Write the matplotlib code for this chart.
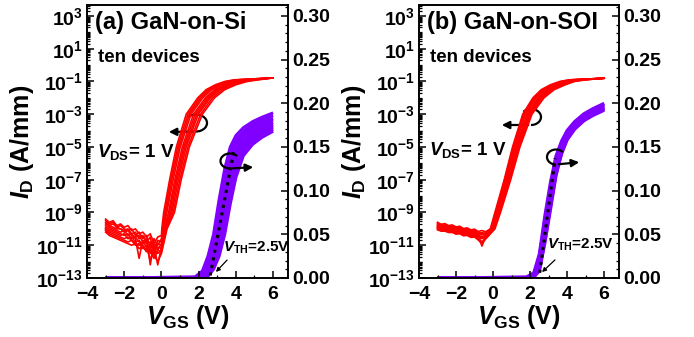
import numpy as np
import matplotlib
matplotlib.use("Agg")
import matplotlib.pyplot as plt
from matplotlib.ticker import FixedLocator, LogLocator, MultipleLocator, NullFormatter, FuncFormatter
from matplotlib.patches import Arc, FancyArrowPatch

plt.rcParams['font.family'] = ['Liberation Sans', 'DejaVu Sans']
plt.rcParams['font.weight'] = 'bold'
plt.rcParams['mathtext.fontset'] = 'custom'
plt.rcParams['mathtext.rm'] = 'Liberation Sans:bold'
plt.rcParams['mathtext.bf'] = 'Liberation Sans:bold'
plt.rcParams['mathtext.it'] = 'Liberation Sans:bold:italic'

W, H = 694, 337

# ---------------- data ----------------
panel_titles = ['(a) GaN-on-Si', '(b) GaN-on-SOI']

# off-state (log10 ID) on a common VGS grid, one row per device
vgs_off_a = [-3.0, -2.8, -2.6, -2.4, -2.2, -2.0, -1.8, -1.6, -1.4, -1.2, -1.0, -0.8, -0.6, -0.4, -0.2, 0.0]
logid_off_a = [
    [-9.4, -9.6, -9.5, -9.8, -9.7, -9.9, -9.8, -10.1, -10.0, -10.3, -10.2, -10.5, -10.3, -10.9, -10.5, -10.4],
    [-9.5, -9.7, -9.6, -9.9, -9.8, -10.0, -10.1, -10.0, -10.4, -10.2, -10.6, -10.4, -11.2, -10.6, -11.0, -10.6],
    [-9.6, -9.8, -9.7, -9.9, -10.0, -10.1, -10.0, -10.3, -10.2, -10.6, -10.4, -10.8, -10.5, -11.6, -10.7, -10.8],
    [-9.7, -9.8, -9.9, -10.0, -10.0, -10.2, -10.1, -10.4, -10.5, -10.4, -10.8, -10.6, -12.2, -10.8, -11.3, -10.9],
    [-9.8, -9.9, -10.0, -10.1, -10.2, -10.1, -10.4, -10.3, -10.6, -11.8, -10.7, -10.9, -10.8, -11.2, -10.9, -11.0],
    [-9.9, -10.0, -10.1, -10.2, -10.3, -10.4, -10.3, -10.6, -10.5, -10.8, -10.9, -10.7, -11.5, -11.0, -12.2, -11.1],
    [-10.0, -10.1, -10.2, -10.3, -10.4, -10.3, -10.6, -10.5, -10.8, -10.7, -11.0, -11.3, -10.9, -11.4, -11.1, -11.2],
    [-10.0, -10.2, -10.3, -10.4, -10.5, -10.6, -10.5, -10.7, -10.9, -11.0, -10.8, -11.1, -11.9, -11.2, -11.5, -11.3],
    [-10.1, -10.3, -10.4, -10.5, -10.6, -10.7, -10.8, -10.7, -11.0, -10.9, -11.2, -11.0, -11.4, -11.8, -11.3, -11.4],
    [-10.2, -10.4, -10.5, -10.6, -10.7, -10.8, -10.9, -11.0, -10.9, -11.2, -11.1, -11.4, -11.2, -11.6, -12.0, -11.5],
]
# on-state: VGS at which each device reaches the common log10 ID levels
logid_on_levels = [-10, -9, -7, -5, -3, -2, -1.5, -1.2, -1.0, -0.9]
vgs_on_a = [
    [0.02, 0.12, 0.44, 0.80, 1.33, 1.95, 2.40, 2.90, 3.40, 3.90],
    [0.05, 0.18, 0.50, 0.87, 1.42, 2.04, 2.50, 3.01, 3.52, 4.03],
    [0.08, 0.24, 0.56, 0.94, 1.50, 2.13, 2.60, 3.12, 3.64, 4.16],
    [0.10, 0.29, 0.63, 1.01, 1.59, 2.22, 2.70, 3.23, 3.76, 4.29],
    [0.15, 0.38, 0.72, 1.12, 1.72, 2.36, 2.85, 3.40, 3.94, 4.49],
    [0.17, 0.44, 0.78, 1.19, 1.81, 2.45, 2.95, 3.51, 4.06, 4.62],
    [0.20, 0.50, 0.84, 1.26, 1.90, 2.54, 3.05, 3.62, 4.18, 4.75],
    [0.23, 0.56, 0.91, 1.33, 1.98, 2.63, 3.15, 3.73, 4.30, 4.88],
    [0.27, 0.63, 0.99, 1.42, 2.10, 2.74, 3.28, 3.87, 4.46, 5.04],
    [0.30, 0.70, 1.06, 1.50, 2.20, 2.85, 3.40, 4.00, 4.60, 5.20],
]
vgs_end = 6.0
logid_sat_a = -0.78

vgs_off_b = [-3.0, -2.8, -2.6, -2.4, -2.2, -2.0, -1.8, -1.6, -1.4, -1.2, -1.0, -0.8, -0.6, -0.4]
logid_off_b = [
    [-9.60, -9.72, -9.68, -9.80, -9.76, -9.88, -9.84, -9.98, -9.94, -10.06, -10.02, -10.16, -10.10, -10.18],
    [-9.68, -9.78, -9.76, -9.86, -9.84, -9.94, -9.92, -10.04, -10.00, -10.12, -10.10, -10.22, -10.30, -10.24],
    [-9.74, -9.84, -9.80, -9.92, -9.88, -10.00, -9.98, -10.10, -10.06, -10.18, -10.14, -10.30, -10.22, -10.32],
    [-9.80, -9.88, -9.86, -9.96, -9.94, -10.04, -10.02, -10.14, -10.12, -10.22, -10.20, -10.34, -10.60, -10.36],
    [-9.84, -9.94, -9.90, -10.02, -9.98, -10.10, -10.06, -10.18, -10.16, -10.28, -10.24, -10.40, -10.32, -10.42],
    [-9.88, -9.98, -9.96, -10.06, -10.04, -10.14, -10.12, -10.24, -10.20, -10.32, -10.30, -10.46, -11.05, -10.46],
    [-9.92, -10.02, -10.00, -10.10, -10.08, -10.20, -10.16, -10.28, -10.26, -10.38, -10.34, -10.50, -10.44, -10.50],
    [-9.96, -10.06, -10.04, -10.14, -10.12, -10.24, -10.22, -10.32, -10.30, -10.42, -10.40, -10.56, -10.80, -10.54],
    [-10.00, -10.10, -10.08, -10.18, -10.16, -10.28, -10.26, -10.38, -10.34, -10.46, -10.44, -10.62, -10.54, -10.58],
    [-10.06, -10.14, -10.14, -10.22, -10.22, -10.32, -10.30, -10.42, -10.40, -10.52, -10.50, -10.68, -10.90, -10.62],
]
vgs_on_b = [
    [-0.15, 0.10, 0.60, 1.05, 1.60, 2.15, 2.60, 3.10, 3.60, 4.10],
    [-0.12, 0.13, 0.64, 1.09, 1.65, 2.21, 2.67, 3.18, 3.68, 4.19],
    [-0.10, 0.16, 0.67, 1.13, 1.70, 2.27, 2.74, 3.26, 3.76, 4.28],
    [-0.07, 0.19, 0.71, 1.17, 1.75, 2.33, 2.81, 3.34, 3.84, 4.37],
    [-0.04, 0.24, 0.76, 1.23, 1.83, 2.42, 2.92, 3.46, 3.96, 4.51],
    [-0.01, 0.27, 0.79, 1.27, 1.88, 2.48, 2.99, 3.54, 4.04, 4.60],
    [0.01, 0.30, 0.83, 1.31, 1.93, 2.54, 3.06, 3.62, 4.12, 4.69],
    [0.04, 0.33, 0.86, 1.35, 1.98, 2.60, 3.13, 3.70, 4.20, 4.78],
    [0.07, 0.36, 0.91, 1.40, 2.04, 2.68, 3.22, 3.80, 4.30, 4.89],
    [0.10, 0.40, 0.95, 1.45, 2.10, 2.75, 3.30, 3.90, 4.40, 5.00],
]
logid_sat_b = -0.80

# linear-scale ID (A/mm), one row per device
vgs_lin = [-3.0, 1.8, 2.2, 2.5, 2.8, 3.1, 3.4, 3.7, 4.0, 4.4, 4.9, 5.4, 6.0]
id_lin_a = [
    [0, 0.001, 0.008, 0.025, 0.050, 0.090, 0.125, 0.150, 0.163, 0.172, 0.179, 0.184, 0.189],
    [0, 0.001, 0.006, 0.020, 0.042, 0.078, 0.115, 0.143, 0.158, 0.168, 0.176, 0.181, 0.186],
    [0, 0.000, 0.005, 0.016, 0.036, 0.068, 0.106, 0.137, 0.154, 0.165, 0.173, 0.178, 0.183],
    [0, 0.000, 0.004, 0.013, 0.031, 0.060, 0.098, 0.131, 0.150, 0.162, 0.170, 0.176, 0.181],
    [0, 0.000, 0.002, 0.010, 0.025, 0.050, 0.088, 0.122, 0.145, 0.158, 0.167, 0.173, 0.178],
    [0, 0.000, 0.002, 0.008, 0.021, 0.044, 0.080, 0.115, 0.139, 0.154, 0.164, 0.171, 0.176],
    [0, 0.000, 0.001, 0.006, 0.018, 0.038, 0.072, 0.107, 0.133, 0.150, 0.161, 0.168, 0.174],
    [0, 0.000, 0.001, 0.004, 0.015, 0.033, 0.064, 0.099, 0.127, 0.146, 0.158, 0.166, 0.172],
    [0, 0.000, 0.000, 0.003, 0.012, 0.029, 0.057, 0.092, 0.121, 0.143, 0.156, 0.164, 0.170],
    [0, 0.000, 0.000, 0.002, 0.010, 0.025, 0.050, 0.085, 0.115, 0.140, 0.153, 0.161, 0.168],
]
id_lin_b = [
    [0, 0.001, 0.006, 0.028, 0.072, 0.110, 0.140, 0.157, 0.169, 0.179, 0.188, 0.194, 0.200],
    [0, 0.001, 0.005, 0.025, 0.068, 0.106, 0.138, 0.155, 0.168, 0.178, 0.187, 0.193, 0.199],
    [0, 0.000, 0.004, 0.022, 0.064, 0.102, 0.135, 0.154, 0.167, 0.177, 0.186, 0.192, 0.198],
    [0, 0.000, 0.003, 0.019, 0.059, 0.098, 0.132, 0.152, 0.165, 0.176, 0.185, 0.191, 0.197],
    [0, 0.000, 0.002, 0.016, 0.055, 0.094, 0.130, 0.150, 0.164, 0.175, 0.184, 0.190, 0.196],
    [0, 0.000, 0.002, 0.014, 0.052, 0.091, 0.127, 0.148, 0.163, 0.174, 0.183, 0.189, 0.195],
    [0, 0.000, 0.001, 0.012, 0.049, 0.087, 0.124, 0.146, 0.161, 0.173, 0.182, 0.188, 0.194],
    [0, 0.000, 0.001, 0.011, 0.046, 0.084, 0.122, 0.145, 0.160, 0.172, 0.181, 0.188, 0.194],
    [0, 0.000, 0.001, 0.009, 0.043, 0.081, 0.119, 0.143, 0.159, 0.171, 0.180, 0.187, 0.193],
    [0, 0.000, 0.001, 0.008, 0.040, 0.078, 0.117, 0.142, 0.158, 0.170, 0.180, 0.186, 0.192],
]

# extrapolation line for VTH
vth_line_a_v = [2.62, 3.88]
vth_line_a_i = [0.003, 0.144]
vth_line_b_v = [2.52, 3.35]
vth_line_b_i = [0.006, 0.137]

RED = '#ff0000'
PURPLE = '#8000ff'

fig = plt.figure(figsize=(W / 100, H / 100), dpi=100)

def fx(x):
    return x / W

def fy(y):
    return 1 - y / H

def curl(cx, cy, w, h, t1, t2, start, end):
    arc = Arc((fx(cx), fy(cy)), w / W, h / H, theta1=t1, theta2=t2,
              transform=fig.transFigure, color='black', lw=1.6)
    fig.add_artist(arc)
    arr = FancyArrowPatch((fx(start[0]), fy(start[1])), (fx(end[0]), fy(end[1])),
                          transform=fig.transFigure, arrowstyle='-|>',
                          mutation_scale=11, color='black', lw=1.6)
    fig.add_artist(arr)

def style_axes(ax, ax2):
    ax.set_yscale('log')
    ax.set_xlim(-4, 6.8)
    ax.set_ylim(1e-13, 10 ** 3.67)
    ax2.set_ylim(0, 0.3125)
    ax.xaxis.set_major_locator(MultipleLocator(2))
    ax.xaxis.set_minor_locator(MultipleLocator(1))
    ax.yaxis.set_major_locator(FixedLocator(10.0 ** np.arange(-13, 4, 2)))
    ax.yaxis.set_minor_locator(LogLocator(base=10, subs=np.arange(1, 10), numticks=40))
    ax.yaxis.set_minor_formatter(NullFormatter())
    ax.yaxis.set_major_formatter(FuncFormatter(lambda v, p: r'$10^{%d}$' % int(round(np.log10(v)))))
    ax2.yaxis.set_major_locator(MultipleLocator(0.05))
    ax2.yaxis.set_minor_locator(MultipleLocator(0.01))
    ax2.yaxis.set_major_formatter(FuncFormatter(lambda v, p: '%.2f' % v))
    for a in (ax, ax2):
        a.tick_params(which='major', direction='in', length=5, width=1.1, labelsize=14, pad=3)
        a.tick_params(which='minor', direction='in', length=2.5, width=0.9)
        for s in a.spines.values():
            s.set_linewidth(1.2)
    ax.tick_params(axis='x', pad=6)
    ax.set_xlabel(r'$V_{\mathrm{GS}}$ (V)', fontsize=18, fontweight='bold', labelpad=0)
    ax.set_ylabel(r'$I_{\mathrm{D}}$ (A/mm)', fontsize=18, fontweight='bold', labelpad=0)

panels = [
    dict(rect=[fx(87), fy(278), 201 / W, 273 / H], voff=vgs_off_a, loff=logid_off_a, von=vgs_on_a,
         lsat=logid_sat_a, ilin=id_lin_a, vtv=vth_line_a_v, vti=vth_line_a_i),
    dict(rect=[fx(419), fy(278), 200 / W, 273 / H], voff=vgs_off_b, loff=logid_off_b, von=vgs_on_b,
         lsat=logid_sat_b, ilin=id_lin_b, vtv=vth_line_b_v, vti=vth_line_b_i),
]

for k, p in enumerate(panels):
    ax = fig.add_axes(p['rect'])
    ax2 = ax.twinx()
    ax.set_zorder(ax2.get_zorder() + 1)
    ax.patch.set_visible(False)
    for d in range(10):
        v = list(p['voff']) + list(p['von'][d]) + [vgs_end]
        l = list(p['loff'][d]) + list(logid_on_levels) + [p['lsat']]
        ax.plot(v, 10.0 ** np.array(l), color=RED, lw=1.2)
        ax2.plot(vgs_lin, p['ilin'][d], color=PURPLE, lw=2.2, solid_capstyle='butt')
    ax2.plot(p['vtv'], p['vti'], color='black', ls=(0, (1, 1.5)), lw=2.2)
    style_axes(ax, ax2)

# texts
fig.text(fx(95), fy(22), panel_titles[0], fontsize=17, fontweight='bold', va='center', ha='left')
fig.text(fx(427), fy(22), panel_titles[1], fontsize=17, fontweight='bold', va='center', ha='left')
for x0 in (98, 430):
    fig.text(fx(x0), fy(57), 'ten devices', fontsize=13.5, fontweight='bold', va='center', ha='left')
fig.text(fx(97), fy(152), r'$V_{\mathrm{DS}}$= 1 V', fontsize=13.5, fontweight='bold', va='center', ha='left')
fig.text(fx(429), fy(150), r'$V_{\mathrm{DS}}$= 1 V', fontsize=13.5, fontweight='bold', va='center', ha='left')

# VTH annotations
for (xt, yt, xa0, ya0, xa1, ya1) in [(223, 248, 229, 258, 214, 274), (547, 245, 557, 258, 540, 274)]:
    fig.text(fx(xt), fy(yt), r'$V_{\mathrm{TH}}$=2.5V', fontsize=11, fontweight='bold', va='center', ha='left')
    fig.add_artist(FancyArrowPatch((fx(xa0), fy(ya0)), (fx(xa1), fy(ya1)), transform=fig.transFigure,
                                   arrowstyle='-|>', mutation_scale=6, color='black', lw=0.9))

# curly arrows
curl(196, 123, 22, 17, -90, 125, (196, 131.5), (166, 132))
curl(230, 161, 19, 15, 55, 270, (230, 168.5), (256, 167))
curl(531, 117, 20, 16, -90, 125, (531, 125), (499, 125))
curl(556, 157, 18, 15, 55, 270, (556, 164.5), (582, 162))

fig.savefig('out.png', dpi=100)
